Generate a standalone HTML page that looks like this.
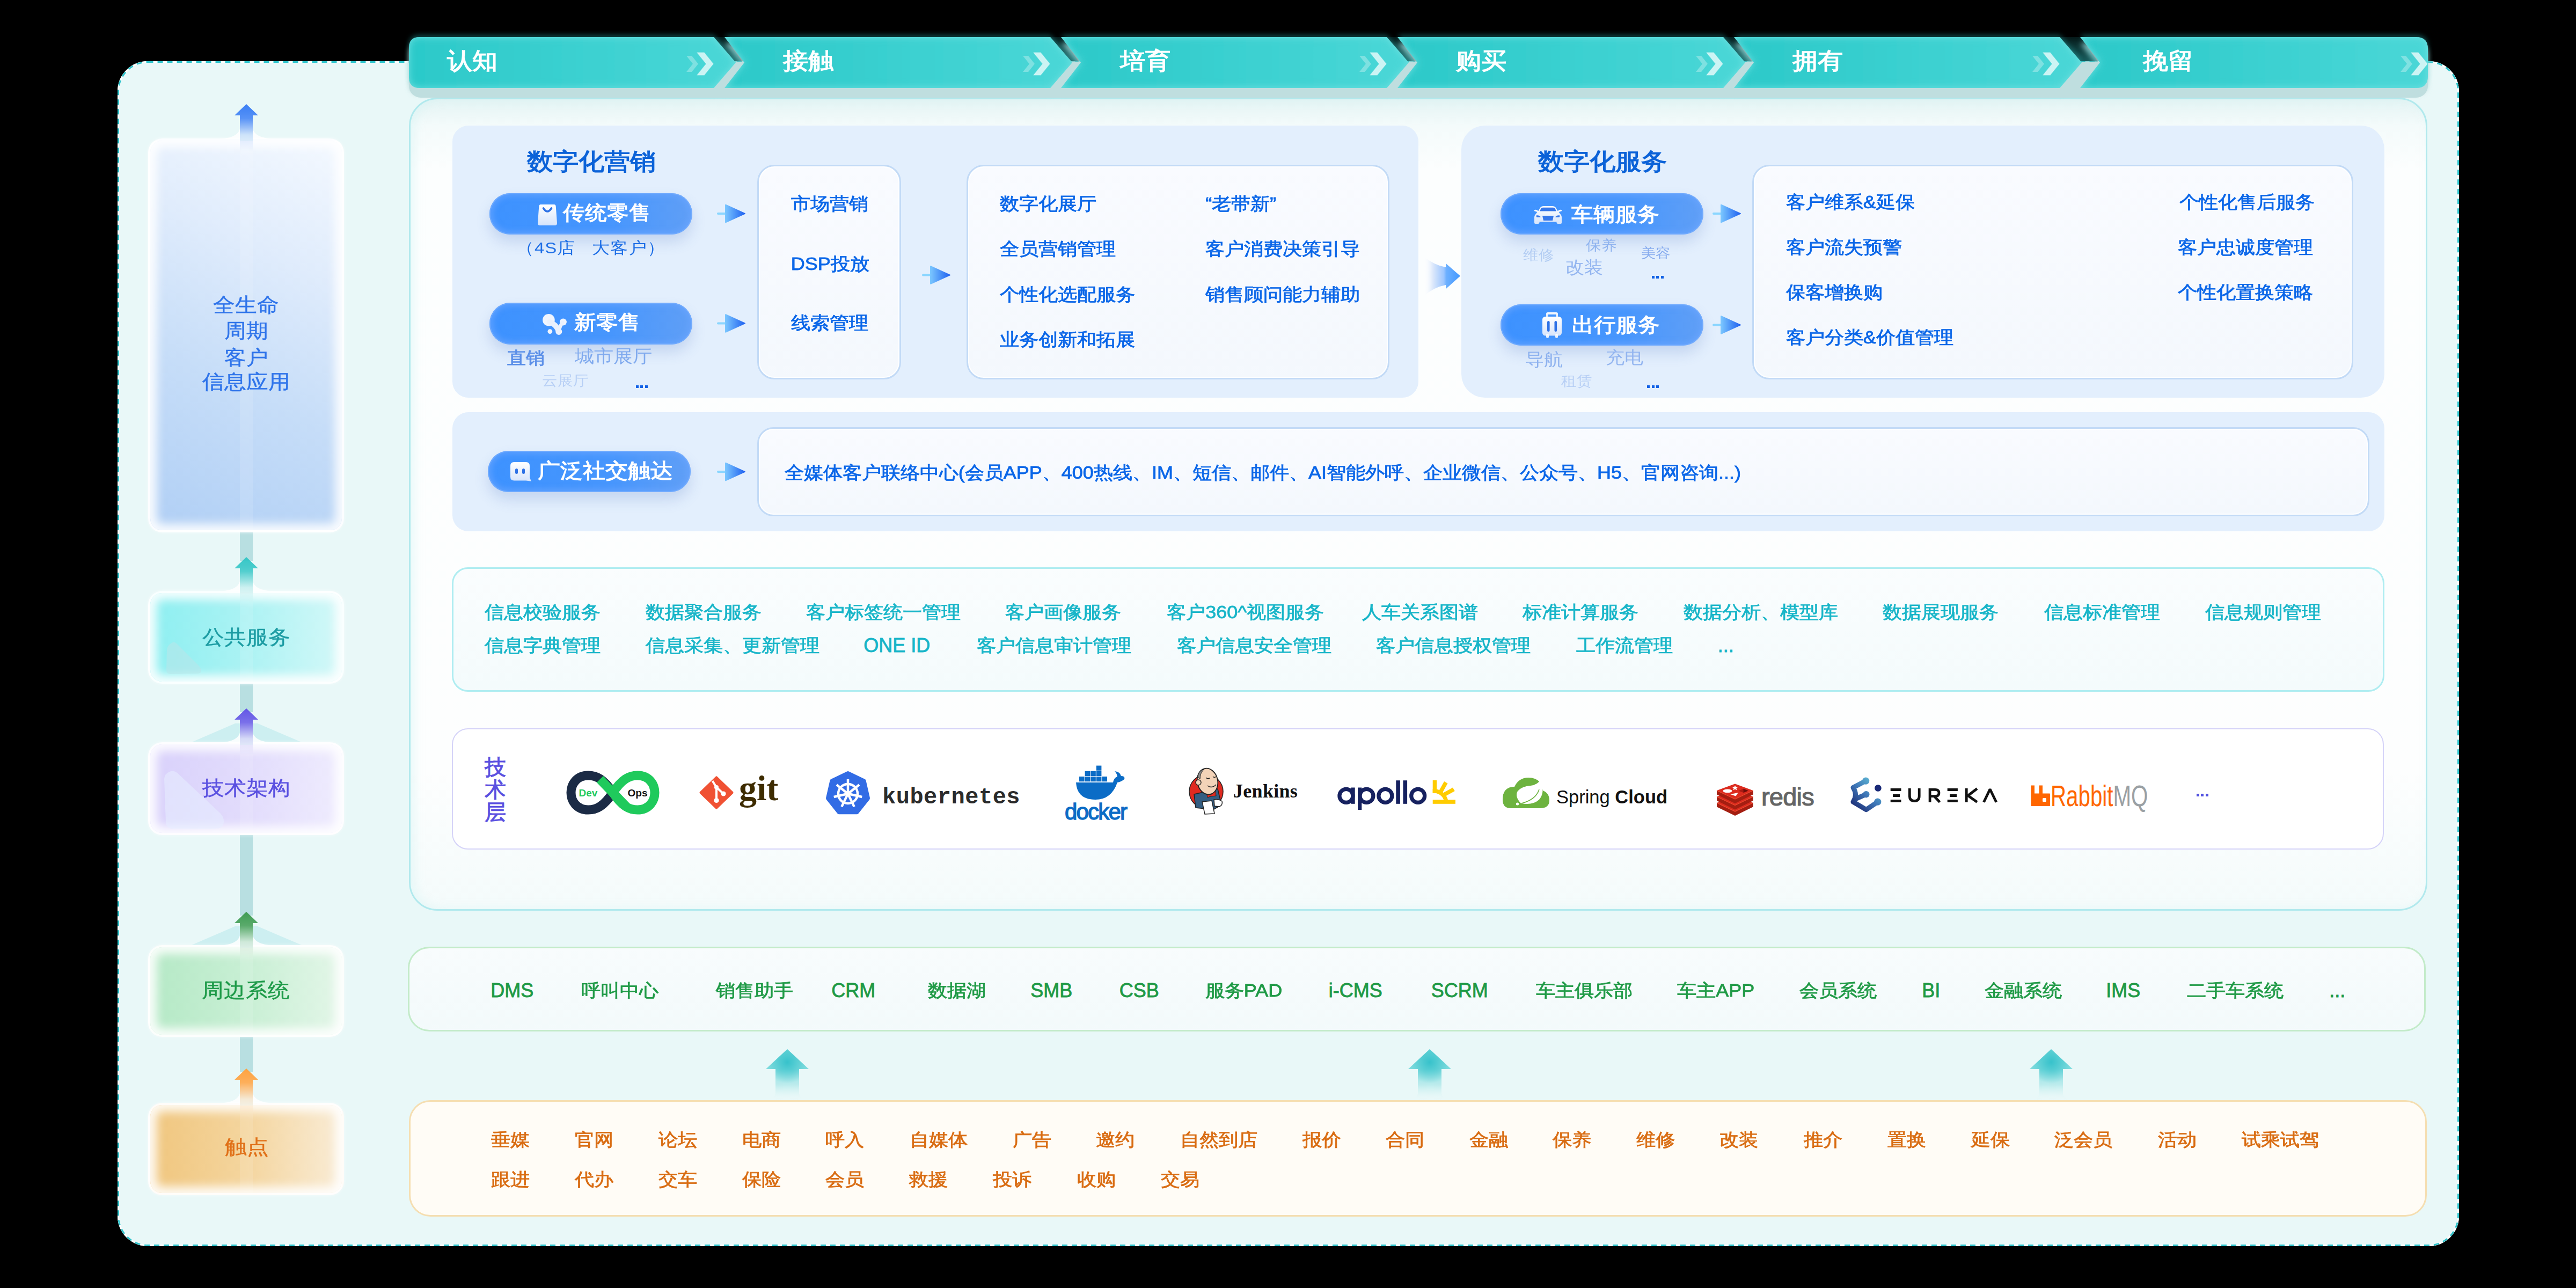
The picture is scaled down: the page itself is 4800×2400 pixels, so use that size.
<!DOCTYPE html><html><head><meta charset="utf-8"><style>
html,body{margin:0;padding:0;}
body{width:4800px;height:2400px;background:#000;position:relative;overflow:hidden;font-family:"Liberation Sans",sans-serif;}
.t{position:absolute;white-space:nowrap;line-height:1;}
.b{position:absolute;box-sizing:border-box;}
svg{position:absolute;overflow:visible;}
</style></head><body><div class="b" style="left:219px;top:114px;width:4363px;height:2208px;background:#e9f8f8;border-radius:56px;"></div><svg style="left:0;top:0" width="4800" height="2400"><rect x="220.5" y="115.5" width="4360" height="2205" rx="55" ry="55" fill="none" stroke="#ffffff" stroke-width="3"/><rect x="220.5" y="115.5" width="4360" height="2205" rx="55" ry="55" fill="none" stroke="#2cc3cb" stroke-width="3" stroke-dasharray="10 8"/></svg><div class="b" style="left:762px;top:182px;width:3761px;height:1515px;border-radius:53px;border:3px solid #b1e9ed;box-shadow:inset 8px 0 18px rgba(200,240,240,0.35);background:linear-gradient(180deg,#e4f4f4 0px,#f4fbfb 50px,#fcfefe 130px,#fdfefe 1250px,#f4fbfb 1515px);"></div><svg style="left:0;top:0" width="4800" height="260"><defs><linearGradient id="pg" x1="0" x2="1" y1="0" y2="0"><stop offset="0" stop-color="#2bc9c9"/><stop offset="1" stop-color="#4ad7d7"/></linearGradient><filter id="pgl" x="-5%" y="-50%" width="110%" height="200%"><feGaussianBlur stdDeviation="7"/></filter><filter id="shb" x="-5%" y="-50%" width="110%" height="200%"><feGaussianBlur stdDeviation="5"/></filter><clipPath id="cp0"><path d="M782,69 L1330,69 L1371,116.5 L1330,164 L782,164 Q762,164 762,144 L762,89 Q762,69 782,69 Z"/></clipPath><clipPath id="cp1"><path d="M1350,69 L1957,69 L1998,116.5 L1957,164 L1350,164 L1387,116.5 Z"/></clipPath><clipPath id="cp2"><path d="M1977,69 L2584,69 L2625,116.5 L2584,164 L1977,164 L2014,116.5 Z"/></clipPath><clipPath id="cp3"><path d="M2604,69 L3211,69 L3252,116.5 L3211,164 L2604,164 L2641,116.5 Z"/></clipPath><clipPath id="cp4"><path d="M3231,69 L3838,69 L3879,116.5 L3838,164 L3231,164 L3268,116.5 Z"/></clipPath><clipPath id="cp5"><path d="M3876,69 L4502,69 Q4524,69 4524,91 L4524,142 Q4524,164 4502,164 L3876,164 L3913,116.5 Z"/></clipPath></defs><g filter="url(#shb)" opacity="0.35"><path d="M782,69 L1330,69 L1371,116.5 L1330,164 L782,164 Q762,164 762,144 L762,89 Q762,69 782,69 Z" fill="#2ecaca" transform="translate(0,-4)"/><path d="M1350,69 L1957,69 L1998,116.5 L1957,164 L1350,164 L1387,116.5 Z" fill="#2ecaca" transform="translate(0,-4)"/><path d="M1977,69 L2584,69 L2625,116.5 L2584,164 L1977,164 L2014,116.5 Z" fill="#2ecaca" transform="translate(0,-4)"/><path d="M2604,69 L3211,69 L3252,116.5 L3211,164 L2604,164 L2641,116.5 Z" fill="#2ecaca" transform="translate(0,-4)"/><path d="M3231,69 L3838,69 L3879,116.5 L3838,164 L3231,164 L3268,116.5 Z" fill="#2ecaca" transform="translate(0,-4)"/><path d="M3876,69 L4502,69 Q4524,69 4524,91 L4524,142 Q4524,164 4502,164 L3876,164 L3913,116.5 Z" fill="#2ecaca" transform="translate(0,-4)"/></g><g filter="url(#shb)" opacity="0.85"><path d="M782,69 L1330,69 L1371,116.5 L1330,164 L782,164 Q762,164 762,144 L762,89 Q762,69 782,69 Z" fill="#b3d6d7" transform="translate(0,12)"/><path d="M1350,69 L1957,69 L1998,116.5 L1957,164 L1350,164 L1387,116.5 Z" fill="#b3d6d7" transform="translate(0,12)"/><path d="M1977,69 L2584,69 L2625,116.5 L2584,164 L1977,164 L2014,116.5 Z" fill="#b3d6d7" transform="translate(0,12)"/><path d="M2604,69 L3211,69 L3252,116.5 L3211,164 L2604,164 L2641,116.5 Z" fill="#b3d6d7" transform="translate(0,12)"/><path d="M3231,69 L3838,69 L3879,116.5 L3838,164 L3231,164 L3268,116.5 Z" fill="#b3d6d7" transform="translate(0,12)"/><path d="M3876,69 L4502,69 Q4524,69 4524,91 L4524,142 Q4524,164 4502,164 L3876,164 L3913,116.5 Z" fill="#b3d6d7" transform="translate(0,12)"/></g><rect x="762" y="115" width="3762" height="67" rx="22" fill="#bfdedf"/><defs><linearGradient id="gapg" x1="0" x2="0" y1="0" y2="1"><stop offset="0" stop-color="#2ec8c8" stop-opacity="0.12"/><stop offset="1" stop-color="#2aa8a8" stop-opacity="0.55"/></linearGradient></defs><path d="M1330,69 L1350,69 L1383,115 L1367,115 Z" fill="url(#gapg)"/><path d="M1957,69 L1977,69 L2010,115 L1994,115 Z" fill="url(#gapg)"/><path d="M2584,69 L2604,69 L2637,115 L2621,115 Z" fill="url(#gapg)"/><path d="M3211,69 L3231,69 L3264,115 L3248,115 Z" fill="url(#gapg)"/><path d="M3838,69 L3876,69 L3909,115 L3875,115 Z" fill="url(#gapg)"/><path d="M782,69 L1330,69 L1371,116.5 L1330,164 L782,164 Q762,164 762,144 L762,89 Q762,69 782,69 Z" fill="#6ee0e0"/><g clip-path="url(#cp0)"><path d="M782,69 L1330,69 L1371,116.5 L1330,164 L782,164 Q762,164 762,144 L762,89 Q762,69 782,69 Z" fill="url(#pg)" filter="url(#pgl)" transform="translate(0,0)"/></g><path d="M1299,98 L1312,98 L1329,119 L1312,140 L1299,140 L1316,119 Z" fill="#ffffff" fill-opacity="0.72" stroke="#fff" stroke-opacity="0.3" stroke-width="1.5" stroke-linejoin="round"/><path d="M1279,104 L1289,104 L1301,119 L1289,134 L1279,134 L1291,119 Z" fill="#ffffff" fill-opacity="0.3"/><path d="M1350,69 L1957,69 L1998,116.5 L1957,164 L1350,164 L1387,116.5 Z" fill="#6ee0e0"/><g clip-path="url(#cp1)"><path d="M1350,69 L1957,69 L1998,116.5 L1957,164 L1350,164 L1387,116.5 Z" fill="url(#pg)" filter="url(#pgl)" transform="translate(0,0)"/></g><path d="M1926,98 L1939,98 L1956,119 L1939,140 L1926,140 L1943,119 Z" fill="#ffffff" fill-opacity="0.72" stroke="#fff" stroke-opacity="0.3" stroke-width="1.5" stroke-linejoin="round"/><path d="M1906,104 L1916,104 L1928,119 L1916,134 L1906,134 L1918,119 Z" fill="#ffffff" fill-opacity="0.3"/><path d="M1977,69 L2584,69 L2625,116.5 L2584,164 L1977,164 L2014,116.5 Z" fill="#6ee0e0"/><g clip-path="url(#cp2)"><path d="M1977,69 L2584,69 L2625,116.5 L2584,164 L1977,164 L2014,116.5 Z" fill="url(#pg)" filter="url(#pgl)" transform="translate(0,0)"/></g><path d="M2553,98 L2566,98 L2583,119 L2566,140 L2553,140 L2570,119 Z" fill="#ffffff" fill-opacity="0.72" stroke="#fff" stroke-opacity="0.3" stroke-width="1.5" stroke-linejoin="round"/><path d="M2533,104 L2543,104 L2555,119 L2543,134 L2533,134 L2545,119 Z" fill="#ffffff" fill-opacity="0.3"/><path d="M2604,69 L3211,69 L3252,116.5 L3211,164 L2604,164 L2641,116.5 Z" fill="#6ee0e0"/><g clip-path="url(#cp3)"><path d="M2604,69 L3211,69 L3252,116.5 L3211,164 L2604,164 L2641,116.5 Z" fill="url(#pg)" filter="url(#pgl)" transform="translate(0,0)"/></g><path d="M3180,98 L3193,98 L3210,119 L3193,140 L3180,140 L3197,119 Z" fill="#ffffff" fill-opacity="0.72" stroke="#fff" stroke-opacity="0.3" stroke-width="1.5" stroke-linejoin="round"/><path d="M3160,104 L3170,104 L3182,119 L3170,134 L3160,134 L3172,119 Z" fill="#ffffff" fill-opacity="0.3"/><path d="M3231,69 L3838,69 L3879,116.5 L3838,164 L3231,164 L3268,116.5 Z" fill="#6ee0e0"/><g clip-path="url(#cp4)"><path d="M3231,69 L3838,69 L3879,116.5 L3838,164 L3231,164 L3268,116.5 Z" fill="url(#pg)" filter="url(#pgl)" transform="translate(0,0)"/></g><path d="M3807,98 L3820,98 L3837,119 L3820,140 L3807,140 L3824,119 Z" fill="#ffffff" fill-opacity="0.72" stroke="#fff" stroke-opacity="0.3" stroke-width="1.5" stroke-linejoin="round"/><path d="M3787,104 L3797,104 L3809,119 L3797,134 L3787,134 L3799,119 Z" fill="#ffffff" fill-opacity="0.3"/><path d="M3876,69 L4502,69 Q4524,69 4524,91 L4524,142 Q4524,164 4502,164 L3876,164 L3913,116.5 Z" fill="#6ee0e0"/><g clip-path="url(#cp5)"><path d="M3876,69 L4502,69 Q4524,69 4524,91 L4524,142 Q4524,164 4502,164 L3876,164 L3913,116.5 Z" fill="url(#pg)" filter="url(#pgl)" transform="translate(0,0)"/></g><path d="M4493,98 L4506,98 L4523,119 L4506,140 L4493,140 L4510,119 Z" fill="#ffffff" fill-opacity="0.72" stroke="#fff" stroke-opacity="0.3" stroke-width="1.5" stroke-linejoin="round"/><path d="M4473,104 L4483,104 L4495,119 L4483,134 L4473,134 L4485,119 Z" fill="#ffffff" fill-opacity="0.3"/></svg><div class="t" style="left:832.6px;top:91.1px;font-size:47px;color:#ffffff;font-weight:700;transform:scaleY(0.91);transform-origin:0 1.4px;">认知</div><div class="t" style="left:1459.4px;top:91.1px;font-size:47px;color:#ffffff;font-weight:700;transform:scaleY(0.91);transform-origin:0 1.4px;">接触</div><div class="t" style="left:2086.7px;top:91.1px;font-size:47px;color:#ffffff;font-weight:700;transform:scaleY(0.91);transform-origin:0 1.4px;">培育</div><div class="t" style="left:2713.1px;top:91.1px;font-size:47px;color:#ffffff;font-weight:700;transform:scaleY(0.91);transform-origin:0 1.4px;">购买</div><div class="t" style="left:3340.1px;top:91.1px;font-size:47px;color:#ffffff;font-weight:700;transform:scaleY(0.91);transform-origin:0 1.4px;">拥有</div><div class="t" style="left:3993.1px;top:91.1px;font-size:47px;color:#ffffff;font-weight:700;transform:scaleY(0.91);transform-origin:0 1.4px;">挽留</div><div class="b" style="left:843px;top:234px;width:1800px;height:507px;border-radius:30px;background:#e3effd;"></div><div class="b" style="left:2723px;top:234px;width:1720px;height:507px;border-radius:44px;background:#e3effd;"></div><div class="b" style="left:843px;top:768px;width:3600px;height:222px;border-radius:30px;background:#e3effd;"></div><div class="b" style="left:1411px;top:307px;width:268px;height:400px;border-radius:32px;border:3px solid #c2daf6;background:linear-gradient(180deg,#f9fbff,#f4f8fd);box-shadow:inset 0 0 0 2px rgba(255,255,255,0.95);"></div><div class="b" style="left:1801px;top:307px;width:788px;height:400px;border-radius:32px;border:3px solid #c2daf6;background:linear-gradient(180deg,#f9fbff,#f4f8fd);box-shadow:inset 0 0 0 2px rgba(255,255,255,0.95);"></div><div class="b" style="left:3265px;top:307px;width:1120px;height:400px;border-radius:32px;border:3px solid #c2daf6;background:linear-gradient(180deg,#f9fbff,#f4f8fd);box-shadow:inset 0 0 0 2px rgba(255,255,255,0.95);"></div><div class="b" style="left:1411px;top:796px;width:3004px;height:166px;border-radius:30px;border:3px solid #c2daf6;background:linear-gradient(180deg,#f9fbff,#f4f8fd);box-shadow:inset 0 0 0 2px rgba(255,255,255,0.95);"></div><div class="b" style="left:912px;top:360px;width:378px;height:77px;border-radius:40px;background:linear-gradient(90deg,#3d92ff 0%,#4796fd 60%,#609ff6 100%);box-shadow:0 14px 26px rgba(70,110,190,0.20), inset 0 0 0 2px rgba(125,178,255,0.55), inset 0 0 10px 7px rgba(105,165,255,0.6);"></div><div class="b" style="left:912px;top:564px;width:378px;height:78px;border-radius:40px;background:linear-gradient(90deg,#3d92ff 0%,#4796fd 60%,#609ff6 100%);box-shadow:0 14px 26px rgba(70,110,190,0.20), inset 0 0 0 2px rgba(125,178,255,0.55), inset 0 0 10px 7px rgba(105,165,255,0.6);"></div><div class="b" style="left:2796px;top:360px;width:378px;height:77px;border-radius:40px;background:linear-gradient(90deg,#3d92ff 0%,#4796fd 60%,#609ff6 100%);box-shadow:0 14px 26px rgba(70,110,190,0.20), inset 0 0 0 2px rgba(125,178,255,0.55), inset 0 0 10px 7px rgba(105,165,255,0.6);"></div><div class="b" style="left:2796px;top:567px;width:378px;height:77px;border-radius:40px;background:linear-gradient(90deg,#3d92ff 0%,#4796fd 60%,#609ff6 100%);box-shadow:0 14px 26px rgba(70,110,190,0.20), inset 0 0 0 2px rgba(125,178,255,0.55), inset 0 0 10px 7px rgba(105,165,255,0.6);"></div><div class="b" style="left:909px;top:840px;width:378px;height:77px;border-radius:40px;background:linear-gradient(90deg,#3d92ff 0%,#4796fd 60%,#609ff6 100%);box-shadow:0 14px 26px rgba(70,110,190,0.20), inset 0 0 0 2px rgba(125,178,255,0.55), inset 0 0 10px 7px rgba(105,165,255,0.6);"></div><svg style="left:0;top:0" width="4800" height="1000"><defs><linearGradient id="sag" x1="0" x2="1"><stop offset="0" stop-color="#7cc8ff"/><stop offset="1" stop-color="#1d5ff0"/></linearGradient><linearGradient id="bag" x1="0" x2="1"><stop offset="0" stop-color="#ffffff" stop-opacity="0"/><stop offset="0.25" stop-color="#dce8fb"/><stop offset="0.55" stop-color="#9cc6ff"/><stop offset="0.62" stop-color="#6cb0ff"/><stop offset="1" stop-color="#4499ff"/></linearGradient></defs><rect x="1336" y="396" width="18" height="4" rx="2" fill="#8ad6ff"/><path d="M1351,382 Q1351,380 1353,381 L1388,397 Q1390,398 1388,399 L1353,415 Q1351,416 1351,414 Z" fill="url(#sag)"/><rect x="1336" y="600.5" width="18" height="4" rx="2" fill="#8ad6ff"/><path d="M1351,586.5 Q1351,584.5 1353,585.5 L1388,601.5 Q1390,602.5 1388,603.5 L1353,619.5 Q1351,620.5 1351,618.5 Z" fill="url(#sag)"/><rect x="3191" y="396" width="18" height="4" rx="2" fill="#8ad6ff"/><path d="M3206,382 Q3206,380 3208,381 L3243,397 Q3245,398 3243,399 L3208,415 Q3206,416 3206,414 Z" fill="url(#sag)"/><rect x="3191" y="603.5" width="18" height="4" rx="2" fill="#8ad6ff"/><path d="M3206,589.5 Q3206,587.5 3208,588.5 L3243,604.5 Q3245,605.5 3243,606.5 L3208,622.5 Q3206,623.5 3206,621.5 Z" fill="url(#sag)"/><rect x="1336" y="877" width="18" height="4" rx="2" fill="#8ad6ff"/><path d="M1351,863 Q1351,861 1353,862 L1388,878 Q1390,879 1388,880 L1353,896 Q1351,897 1351,895 Z" fill="url(#sag)"/><rect x="1718" y="510.5" width="18" height="4" rx="2" fill="#8ad6ff"/><path d="M1733,496.5 Q1733,494.5 1735,495.5 L1770,511.5 Q1772,512.5 1770,513.5 L1735,529.5 Q1733,530.5 1733,528.5 Z" fill="url(#sag)"/><path d="M2653,478 Q2672,494 2694,498 L2694,490.7 L2721,514.3 L2694,538.4 L2694,531 Q2672,535 2653,551.6 Z" fill="url(#bag)"/></svg><div class="t" style="left:981.5px;top:278.6px;font-size:48px;color:#0b62d8;font-weight:400;-webkit-text-stroke:1.44px #0b62d8;transform:scaleY(0.91);transform-origin:0 1.4px;">数字化营销</div><div class="t" style="left:2866.0px;top:278.6px;font-size:48px;color:#0b62d8;font-weight:400;-webkit-text-stroke:1.44px #0b62d8;transform:scaleY(0.91);transform-origin:0 1.4px;">数字化服务</div><div class="t" style="left:1049.2px;top:378.3px;font-size:41px;color:#fff;font-weight:700;transform:scaleY(0.91);transform-origin:0 1.2px;">传统零售</div><div class="t" style="left:1070.2px;top:581.8px;font-size:41px;color:#fff;font-weight:700;transform:scaleY(0.91);transform-origin:0 1.2px;">新零售</div><div class="t" style="left:2928.2px;top:380.8px;font-size:41px;color:#fff;font-weight:700;transform:scaleY(0.91);transform-origin:0 1.2px;">车辆服务</div><div class="t" style="left:2929.2px;top:586.8px;font-size:41px;color:#fff;font-weight:700;transform:scaleY(0.91);transform-origin:0 1.2px;">出行服务</div><div class="t" style="left:1001.7px;top:858.2px;font-size:42px;color:#fff;font-weight:700;transform:scaleY(0.91);transform-origin:0 1.3px;">广泛社交触达</div><div class="t" style="left:961.8px;top:445.5px;font-size:33px;color:#1f6fe6;font-weight:400;letter-spacing:1.1px;transform:scaleY(0.91);transform-origin:0 1.0px;">（4S店&nbsp;&nbsp;&nbsp;大客户）</div><div class="t" style="left:945.3px;top:651.0px;font-size:35px;color:#5b8fe8;font-weight:400;-webkit-text-stroke:0.84px #5b8fe8;transform:scaleY(0.91);transform-origin:0 1.1px;">直销</div><div class="t" style="left:1071.3px;top:648.4px;font-size:36px;color:#80aaee;font-weight:400;transform:scaleY(0.91);transform-origin:0 1.1px;">城市展厅</div><div class="t" style="left:1010.4px;top:696.1px;font-size:29px;color:#b7cff5;font-weight:400;transform:scaleY(0.91);transform-origin:0 0.9px;">云展厅</div><div class="t" style="left:2838.4px;top:462.1px;font-size:29px;color:#b3cdf3;font-weight:400;transform:scaleY(0.91);transform-origin:0 0.9px;">维修</div><div class="t" style="left:2954.9px;top:443.6px;font-size:29px;color:#8fb3ef;font-weight:400;transform:scaleY(0.91);transform-origin:0 0.9px;">保养</div><div class="t" style="left:2917.3px;top:481.9px;font-size:35px;color:#93b5f0;font-weight:400;transform:scaleY(0.91);transform-origin:0 1.1px;">改装</div><div class="t" style="left:3057.5px;top:460.2px;font-size:27px;color:#86abee;font-weight:400;transform:scaleY(0.91);transform-origin:0 0.8px;">美容</div><div class="t" style="left:2841.8px;top:653.5px;font-size:35px;color:#8eb2ef;font-weight:400;transform:scaleY(0.91);transform-origin:0 1.1px;">导航</div><div class="t" style="left:2991.8px;top:650.0px;font-size:35px;color:#93b5f0;font-weight:400;transform:scaleY(0.91);transform-origin:0 1.1px;">充电</div><div class="t" style="left:2909.4px;top:697.1px;font-size:29px;color:#b7cff5;font-weight:400;transform:scaleY(0.91);transform-origin:0 0.9px;">租赁</div><div class="b" style="left:1184.5px;top:717.5px;width:5.0px;height:5.0px;background:#1262e6;"></div><div class="b" style="left:1193.0px;top:717.5px;width:5.0px;height:5.0px;background:#1262e6;"></div><div class="b" style="left:1201.5px;top:717.5px;width:5.0px;height:5.0px;background:#1262e6;"></div><div class="b" style="left:3077.5px;top:514px;width:5.0px;height:5px;background:#1262e6;"></div><div class="b" style="left:3086.0px;top:514px;width:5.0px;height:5px;background:#1262e6;"></div><div class="b" style="left:3094.5px;top:514px;width:5.0px;height:5px;background:#1262e6;"></div><div class="b" style="left:3069.0px;top:718px;width:5.0px;height:5px;background:#1262e6;"></div><div class="b" style="left:3077.5px;top:718px;width:5.0px;height:5px;background:#1262e6;"></div><div class="b" style="left:3086.0px;top:718px;width:5.0px;height:5px;background:#1262e6;"></div><div class="t" style="left:1473.8px;top:363.9px;font-size:36px;color:#0a66e8;font-weight:400;-webkit-text-stroke:0.86px #0a66e8;transform:scaleY(0.91);transform-origin:0 1.1px;">市场营销</div><div class="t" style="left:1473.8px;top:475.9px;font-size:36px;color:#0a66e8;font-weight:400;-webkit-text-stroke:0.86px #0a66e8;transform:scaleY(0.91);transform-origin:0 1.1px;">DSP投放</div><div class="t" style="left:1473.8px;top:585.9px;font-size:36px;color:#0a66e8;font-weight:400;-webkit-text-stroke:0.86px #0a66e8;transform:scaleY(0.91);transform-origin:0 1.1px;">线索管理</div><div class="t" style="left:1863.3px;top:363.9px;font-size:36px;color:#0a66e8;font-weight:400;-webkit-text-stroke:0.86px #0a66e8;transform:scaleY(0.91);transform-origin:0 1.1px;">数字化展厅</div><div class="t" style="left:1863.3px;top:448.4px;font-size:36px;color:#0a66e8;font-weight:400;-webkit-text-stroke:0.86px #0a66e8;transform:scaleY(0.91);transform-origin:0 1.1px;">全员营销管理</div><div class="t" style="left:1863.3px;top:532.9px;font-size:36px;color:#0a66e8;font-weight:400;-webkit-text-stroke:0.86px #0a66e8;transform:scaleY(0.91);transform-origin:0 1.1px;">个性化选配服务</div><div class="t" style="left:1863.3px;top:617.4px;font-size:36px;color:#0a66e8;font-weight:400;-webkit-text-stroke:0.86px #0a66e8;transform:scaleY(0.91);transform-origin:0 1.1px;">业务创新和拓展</div><div class="t" style="left:2246.3px;top:363.9px;font-size:36px;color:#0a66e8;font-weight:400;-webkit-text-stroke:0.86px #0a66e8;transform:scaleY(0.91);transform-origin:0 1.1px;">“老带新”</div><div class="t" style="left:2246.3px;top:448.4px;font-size:36px;color:#0a66e8;font-weight:400;-webkit-text-stroke:0.86px #0a66e8;transform:scaleY(0.91);transform-origin:0 1.1px;">客户消费决策引导</div><div class="t" style="left:2246.3px;top:532.9px;font-size:36px;color:#0a66e8;font-weight:400;-webkit-text-stroke:0.86px #0a66e8;transform:scaleY(0.91);transform-origin:0 1.1px;">销售顾问能力辅助</div><div class="t" style="left:3327.7px;top:360.9px;font-size:36px;color:#0a66e8;font-weight:400;-webkit-text-stroke:0.86px #0a66e8;transform:scaleY(0.91);transform-origin:0 1.1px;">客户维系&amp;延保</div><div class="t" style="left:3327.7px;top:445.3px;font-size:36px;color:#0a66e8;font-weight:400;-webkit-text-stroke:0.86px #0a66e8;transform:scaleY(0.91);transform-origin:0 1.1px;">客户流失预警</div><div class="t" style="left:3327.7px;top:528.5px;font-size:36px;color:#0a66e8;font-weight:400;-webkit-text-stroke:0.86px #0a66e8;transform:scaleY(0.91);transform-origin:0 1.1px;">保客增换购</div><div class="t" style="left:3327.7px;top:612.9px;font-size:36px;color:#0a66e8;font-weight:400;-webkit-text-stroke:0.86px #0a66e8;transform:scaleY(0.91);transform-origin:0 1.1px;">客户分类&amp;价值管理</div><div class="t" style="left:4060.9px;top:360.9px;font-size:36px;color:#0a66e8;font-weight:400;-webkit-text-stroke:0.86px #0a66e8;transform:scaleY(0.91);transform-origin:0 1.1px;">个性化售后服务</div><div class="t" style="left:4058.3px;top:445.3px;font-size:36px;color:#0a66e8;font-weight:400;-webkit-text-stroke:0.86px #0a66e8;transform:scaleY(0.91);transform-origin:0 1.1px;">客户忠诚度管理</div><div class="t" style="left:4058.3px;top:528.5px;font-size:36px;color:#0a66e8;font-weight:400;-webkit-text-stroke:0.86px #0a66e8;transform:scaleY(0.91);transform-origin:0 1.1px;">个性化置换策略</div><div class="t" style="left:1461.8px;top:864.9px;font-size:36px;color:#0a66e8;font-weight:400;-webkit-text-stroke:0.86px #0a66e8;transform:scaleY(0.91);transform-origin:0 1.1px;">全媒体客户联络中心(会员APP、400热线、IM、短信、邮件、AI智能外呼、企业微信、公众号、H5、官网咨询...)</div><div class="b" style="left:842px;top:1057px;width:3601px;height:232px;border-radius:30px;border:3px solid #afedf1;background:linear-gradient(180deg,#fafdfe,#f4fbfc);"></div><div class="t" style="left:903.3px;top:1124.9px;font-size:36px;color:#17b5c8;font-weight:400;-webkit-text-stroke:0.86px #17b5c8;transform:scaleY(0.91);transform-origin:0 1.1px;">信息校验服务</div><div class="t" style="left:1202.8px;top:1124.9px;font-size:36px;color:#17b5c8;font-weight:400;-webkit-text-stroke:0.86px #17b5c8;transform:scaleY(0.91);transform-origin:0 1.1px;">数据聚合服务</div><div class="t" style="left:1501.8px;top:1124.9px;font-size:36px;color:#17b5c8;font-weight:400;-webkit-text-stroke:0.86px #17b5c8;transform:scaleY(0.91);transform-origin:0 1.1px;">客户标签统一管理</div><div class="t" style="left:1873.3px;top:1124.9px;font-size:36px;color:#17b5c8;font-weight:400;-webkit-text-stroke:0.86px #17b5c8;transform:scaleY(0.91);transform-origin:0 1.1px;">客户画像服务</div><div class="t" style="left:2174.3px;top:1124.9px;font-size:36px;color:#17b5c8;font-weight:400;-webkit-text-stroke:0.86px #17b5c8;transform:scaleY(0.91);transform-origin:0 1.1px;">客户360^视图服务</div><div class="t" style="left:2537.8px;top:1124.9px;font-size:36px;color:#17b5c8;font-weight:400;-webkit-text-stroke:0.86px #17b5c8;transform:scaleY(0.91);transform-origin:0 1.1px;">人车关系图谱</div><div class="t" style="left:2836.8px;top:1124.9px;font-size:36px;color:#17b5c8;font-weight:400;-webkit-text-stroke:0.86px #17b5c8;transform:scaleY(0.91);transform-origin:0 1.1px;">标准计算服务</div><div class="t" style="left:3136.8px;top:1124.9px;font-size:36px;color:#17b5c8;font-weight:400;-webkit-text-stroke:0.86px #17b5c8;transform:scaleY(0.91);transform-origin:0 1.1px;">数据分析、模型库</div><div class="t" style="left:3508.3px;top:1124.9px;font-size:36px;color:#17b5c8;font-weight:400;-webkit-text-stroke:0.86px #17b5c8;transform:scaleY(0.91);transform-origin:0 1.1px;">数据展现服务</div><div class="t" style="left:3809.3px;top:1124.9px;font-size:36px;color:#17b5c8;font-weight:400;-webkit-text-stroke:0.86px #17b5c8;transform:scaleY(0.91);transform-origin:0 1.1px;">信息标准管理</div><div class="t" style="left:4109.3px;top:1124.9px;font-size:36px;color:#17b5c8;font-weight:400;-webkit-text-stroke:0.86px #17b5c8;transform:scaleY(0.91);transform-origin:0 1.1px;">信息规则管理</div><div class="t" style="left:903.3px;top:1186.9px;font-size:36px;color:#17b5c8;font-weight:400;-webkit-text-stroke:0.86px #17b5c8;transform:scaleY(0.91);transform-origin:0 1.1px;">信息字典管理</div><div class="t" style="left:1202.8px;top:1186.9px;font-size:36px;color:#17b5c8;font-weight:400;-webkit-text-stroke:0.86px #17b5c8;transform:scaleY(0.91);transform-origin:0 1.1px;">信息采集、更新管理</div><div class="t" style="left:1609.3px;top:1184.9px;font-size:36px;color:#17b5c8;font-weight:400;-webkit-text-stroke:0.86px #17b5c8;">ONE ID</div><div class="t" style="left:1820.3px;top:1186.9px;font-size:36px;color:#17b5c8;font-weight:400;-webkit-text-stroke:0.86px #17b5c8;transform:scaleY(0.91);transform-origin:0 1.1px;">客户信息审计管理</div><div class="t" style="left:2192.8px;top:1186.9px;font-size:36px;color:#17b5c8;font-weight:400;-webkit-text-stroke:0.86px #17b5c8;transform:scaleY(0.91);transform-origin:0 1.1px;">客户信息安全管理</div><div class="t" style="left:2564.3px;top:1186.9px;font-size:36px;color:#17b5c8;font-weight:400;-webkit-text-stroke:0.86px #17b5c8;transform:scaleY(0.91);transform-origin:0 1.1px;">客户信息授权管理</div><div class="t" style="left:2936.8px;top:1186.9px;font-size:36px;color:#17b5c8;font-weight:400;-webkit-text-stroke:0.86px #17b5c8;transform:scaleY(0.91);transform-origin:0 1.1px;">工作流管理</div><div class="t" style="left:3200.8px;top:1184.9px;font-size:36px;color:#17b5c8;font-weight:400;-webkit-text-stroke:0.86px #17b5c8;">...</div><div class="b" style="left:842px;top:1357px;width:3600px;height:226px;border-radius:30px;border:2.5px solid #d5d3f8;background:#fff;"></div><div class="t" style="left:903.2px;top:1407.8px;font-size:40px;color:#5a4fe0;font-weight:400;-webkit-text-stroke:0.96px #5a4fe0;line-height:42px;">技<br>术<br>层</div><div class="b" style="left:4092.5px;top:1479px;width:5.0px;height:5px;background:#5050e0;"></div><div class="b" style="left:4101.0px;top:1479px;width:5.0px;height:5px;background:#5050e0;"></div><div class="b" style="left:4109.5px;top:1479px;width:5.0px;height:5px;background:#5050e0;"></div><div class="b" style="left:760px;top:1764px;width:3760px;height:158px;border-radius:40px;border:3px solid #c3ebc9;background:linear-gradient(180deg,#f8fcfd,#f3fafb);"></div><div class="t" style="left:914.3px;top:1827.9px;font-size:36px;color:#1f9a46;font-weight:400;-webkit-text-stroke:0.86px #1f9a46;">DMS</div><div class="t" style="left:1082.8px;top:1829.9px;font-size:36px;color:#1f9a46;font-weight:400;-webkit-text-stroke:0.86px #1f9a46;transform:scaleY(0.91);transform-origin:0 1.1px;">呼叫中心</div><div class="t" style="left:1334.3px;top:1829.9px;font-size:36px;color:#1f9a46;font-weight:400;-webkit-text-stroke:0.86px #1f9a46;transform:scaleY(0.91);transform-origin:0 1.1px;">销售助手</div><div class="t" style="left:1549.3px;top:1827.9px;font-size:36px;color:#1f9a46;font-weight:400;-webkit-text-stroke:0.86px #1f9a46;">CRM</div><div class="t" style="left:1729.3px;top:1829.9px;font-size:36px;color:#1f9a46;font-weight:400;-webkit-text-stroke:0.86px #1f9a46;transform:scaleY(0.91);transform-origin:0 1.1px;">数据湖</div><div class="t" style="left:1920.3px;top:1827.9px;font-size:36px;color:#1f9a46;font-weight:400;-webkit-text-stroke:0.86px #1f9a46;">SMB</div><div class="t" style="left:2085.8px;top:1827.9px;font-size:36px;color:#1f9a46;font-weight:400;-webkit-text-stroke:0.86px #1f9a46;">CSB</div><div class="t" style="left:2245.8px;top:1829.9px;font-size:36px;color:#1f9a46;font-weight:400;-webkit-text-stroke:0.86px #1f9a46;transform:scaleY(0.91);transform-origin:0 1.1px;">服务PAD</div><div class="t" style="left:2475.8px;top:1827.9px;font-size:36px;color:#1f9a46;font-weight:400;-webkit-text-stroke:0.86px #1f9a46;">i-CMS</div><div class="t" style="left:2666.8px;top:1827.9px;font-size:36px;color:#1f9a46;font-weight:400;-webkit-text-stroke:0.86px #1f9a46;">SCRM</div><div class="t" style="left:2861.8px;top:1829.9px;font-size:36px;color:#1f9a46;font-weight:400;-webkit-text-stroke:0.86px #1f9a46;transform:scaleY(0.91);transform-origin:0 1.1px;">车主俱乐部</div><div class="t" style="left:3125.3px;top:1829.9px;font-size:36px;color:#1f9a46;font-weight:400;-webkit-text-stroke:0.86px #1f9a46;transform:scaleY(0.91);transform-origin:0 1.1px;">车主APP</div><div class="t" style="left:3353.3px;top:1829.9px;font-size:36px;color:#1f9a46;font-weight:400;-webkit-text-stroke:0.86px #1f9a46;transform:scaleY(0.91);transform-origin:0 1.1px;">会员系统</div><div class="t" style="left:3581.3px;top:1827.9px;font-size:36px;color:#1f9a46;font-weight:400;-webkit-text-stroke:0.86px #1f9a46;">BI</div><div class="t" style="left:3698.3px;top:1829.9px;font-size:36px;color:#1f9a46;font-weight:400;-webkit-text-stroke:0.86px #1f9a46;transform:scaleY(0.91);transform-origin:0 1.1px;">金融系统</div><div class="t" style="left:3924.3px;top:1827.9px;font-size:36px;color:#1f9a46;font-weight:400;-webkit-text-stroke:0.86px #1f9a46;">IMS</div><div class="t" style="left:4075.3px;top:1829.9px;font-size:36px;color:#1f9a46;font-weight:400;-webkit-text-stroke:0.86px #1f9a46;transform:scaleY(0.91);transform-origin:0 1.1px;">二手车系统</div><div class="t" style="left:4340.3px;top:1827.9px;font-size:36px;color:#1f9a46;font-weight:400;-webkit-text-stroke:0.86px #1f9a46;">...</div><div class="b" style="left:762px;top:2050px;width:3760px;height:217px;border-radius:40px;border:3px solid #f5deb1;background:#fffcf6;"></div><div class="t" style="left:915.3px;top:2108.4px;font-size:36px;color:#d96c12;font-weight:400;-webkit-text-stroke:0.86px #d96c12;transform:scaleY(0.91);transform-origin:0 1.1px;">垂媒</div><div class="t" style="left:1070.8px;top:2108.4px;font-size:36px;color:#d96c12;font-weight:400;-webkit-text-stroke:0.86px #d96c12;transform:scaleY(0.91);transform-origin:0 1.1px;">官网</div><div class="t" style="left:1226.8px;top:2108.4px;font-size:36px;color:#d96c12;font-weight:400;-webkit-text-stroke:0.86px #d96c12;transform:scaleY(0.91);transform-origin:0 1.1px;">论坛</div><div class="t" style="left:1383.3px;top:2108.4px;font-size:36px;color:#d96c12;font-weight:400;-webkit-text-stroke:0.86px #d96c12;transform:scaleY(0.91);transform-origin:0 1.1px;">电商</div><div class="t" style="left:1538.3px;top:2108.4px;font-size:36px;color:#d96c12;font-weight:400;-webkit-text-stroke:0.86px #d96c12;transform:scaleY(0.91);transform-origin:0 1.1px;">呼入</div><div class="t" style="left:1695.3px;top:2108.4px;font-size:36px;color:#d96c12;font-weight:400;-webkit-text-stroke:0.86px #d96c12;transform:scaleY(0.91);transform-origin:0 1.1px;">自媒体</div><div class="t" style="left:1886.8px;top:2108.4px;font-size:36px;color:#d96c12;font-weight:400;-webkit-text-stroke:0.86px #d96c12;transform:scaleY(0.91);transform-origin:0 1.1px;">广告</div><div class="t" style="left:2041.8px;top:2108.4px;font-size:36px;color:#d96c12;font-weight:400;-webkit-text-stroke:0.86px #d96c12;transform:scaleY(0.91);transform-origin:0 1.1px;">邀约</div><div class="t" style="left:2199.3px;top:2108.4px;font-size:36px;color:#d96c12;font-weight:400;-webkit-text-stroke:0.86px #d96c12;transform:scaleY(0.91);transform-origin:0 1.1px;">自然到店</div><div class="t" style="left:2426.8px;top:2108.4px;font-size:36px;color:#d96c12;font-weight:400;-webkit-text-stroke:0.86px #d96c12;transform:scaleY(0.91);transform-origin:0 1.1px;">报价</div><div class="t" style="left:2581.8px;top:2108.4px;font-size:36px;color:#d96c12;font-weight:400;-webkit-text-stroke:0.86px #d96c12;transform:scaleY(0.91);transform-origin:0 1.1px;">合同</div><div class="t" style="left:2738.3px;top:2108.4px;font-size:36px;color:#d96c12;font-weight:400;-webkit-text-stroke:0.86px #d96c12;transform:scaleY(0.91);transform-origin:0 1.1px;">金融</div><div class="t" style="left:2893.3px;top:2108.4px;font-size:36px;color:#d96c12;font-weight:400;-webkit-text-stroke:0.86px #d96c12;transform:scaleY(0.91);transform-origin:0 1.1px;">保养</div><div class="t" style="left:3048.8px;top:2108.4px;font-size:36px;color:#d96c12;font-weight:400;-webkit-text-stroke:0.86px #d96c12;transform:scaleY(0.91);transform-origin:0 1.1px;">维修</div><div class="t" style="left:3204.3px;top:2108.4px;font-size:36px;color:#d96c12;font-weight:400;-webkit-text-stroke:0.86px #d96c12;transform:scaleY(0.91);transform-origin:0 1.1px;">改装</div><div class="t" style="left:3361.3px;top:2108.4px;font-size:36px;color:#d96c12;font-weight:400;-webkit-text-stroke:0.86px #d96c12;transform:scaleY(0.91);transform-origin:0 1.1px;">推介</div><div class="t" style="left:3517.3px;top:2108.4px;font-size:36px;color:#d96c12;font-weight:400;-webkit-text-stroke:0.86px #d96c12;transform:scaleY(0.91);transform-origin:0 1.1px;">置换</div><div class="t" style="left:3673.3px;top:2108.4px;font-size:36px;color:#d96c12;font-weight:400;-webkit-text-stroke:0.86px #d96c12;transform:scaleY(0.91);transform-origin:0 1.1px;">延保</div><div class="t" style="left:3828.3px;top:2108.4px;font-size:36px;color:#d96c12;font-weight:400;-webkit-text-stroke:0.86px #d96c12;transform:scaleY(0.91);transform-origin:0 1.1px;">泛会员</div><div class="t" style="left:4020.8px;top:2108.4px;font-size:36px;color:#d96c12;font-weight:400;-webkit-text-stroke:0.86px #d96c12;transform:scaleY(0.91);transform-origin:0 1.1px;">活动</div><div class="t" style="left:4176.8px;top:2108.4px;font-size:36px;color:#d96c12;font-weight:400;-webkit-text-stroke:0.86px #d96c12;transform:scaleY(0.91);transform-origin:0 1.1px;">试乘试驾</div><div class="t" style="left:915.3px;top:2182.4px;font-size:36px;color:#d96c12;font-weight:400;-webkit-text-stroke:0.86px #d96c12;transform:scaleY(0.91);transform-origin:0 1.1px;">跟进</div><div class="t" style="left:1070.8px;top:2182.4px;font-size:36px;color:#d96c12;font-weight:400;-webkit-text-stroke:0.86px #d96c12;transform:scaleY(0.91);transform-origin:0 1.1px;">代办</div><div class="t" style="left:1226.8px;top:2182.4px;font-size:36px;color:#d96c12;font-weight:400;-webkit-text-stroke:0.86px #d96c12;transform:scaleY(0.91);transform-origin:0 1.1px;">交车</div><div class="t" style="left:1383.3px;top:2182.4px;font-size:36px;color:#d96c12;font-weight:400;-webkit-text-stroke:0.86px #d96c12;transform:scaleY(0.91);transform-origin:0 1.1px;">保险</div><div class="t" style="left:1538.3px;top:2182.4px;font-size:36px;color:#d96c12;font-weight:400;-webkit-text-stroke:0.86px #d96c12;transform:scaleY(0.91);transform-origin:0 1.1px;">会员</div><div class="t" style="left:1694.3px;top:2182.4px;font-size:36px;color:#d96c12;font-weight:400;-webkit-text-stroke:0.86px #d96c12;transform:scaleY(0.91);transform-origin:0 1.1px;">救援</div><div class="t" style="left:1850.3px;top:2182.4px;font-size:36px;color:#d96c12;font-weight:400;-webkit-text-stroke:0.86px #d96c12;transform:scaleY(0.91);transform-origin:0 1.1px;">投诉</div><div class="t" style="left:2006.8px;top:2182.4px;font-size:36px;color:#d96c12;font-weight:400;-webkit-text-stroke:0.86px #d96c12;transform:scaleY(0.91);transform-origin:0 1.1px;">收购</div><div class="t" style="left:2162.8px;top:2182.4px;font-size:36px;color:#d96c12;font-weight:400;-webkit-text-stroke:0.86px #d96c12;transform:scaleY(0.91);transform-origin:0 1.1px;">交易</div><svg style="left:0;top:0" width="4800" height="2400"><defs><linearGradient id="uag" x1="0" x2="0" y1="0" y2="1"><stop offset="0" stop-color="#78dada"/><stop offset="0.4" stop-color="#80dcde" stop-opacity="0.95"/><stop offset="0.7" stop-color="#9fe4e6" stop-opacity="0.6"/><stop offset="1" stop-color="#e9f8f8" stop-opacity="0"/></linearGradient><radialGradient id="uar" cx="0.5" cy="0.3" r="0.5"><stop offset="0" stop-color="#2fbfc9" stop-opacity="0.9"/><stop offset="1" stop-color="#2fbfc9" stop-opacity="0"/></radialGradient></defs><path d="M1467,1955 L1507,1992 L1489,1992 L1489,2038 Q1491,2046 1499,2050 L1435,2050 Q1443,2046 1445,2038 L1445,1992 L1427,1992 Z" fill="url(#uag)"/><clipPath id="uac1467"><path d="M1467,1955 L1507,1992 L1489,1992 L1489,2038 Q1491,2046 1499,2050 L1435,2050 Q1443,2046 1445,2038 L1445,1992 L1427,1992 Z"/></clipPath><rect x="1427" y="1955" width="80" height="80" fill="url(#uar)" clip-path="url(#uac1467)"/><path d="M2664,1955 L2704,1992 L2686,1992 L2686,2038 Q2688,2046 2696,2050 L2632,2050 Q2640,2046 2642,2038 L2642,1992 L2624,1992 Z" fill="url(#uag)"/><clipPath id="uac2664"><path d="M2664,1955 L2704,1992 L2686,1992 L2686,2038 Q2688,2046 2696,2050 L2632,2050 Q2640,2046 2642,2038 L2642,1992 L2624,1992 Z"/></clipPath><rect x="2624" y="1955" width="80" height="80" fill="url(#uar)" clip-path="url(#uac2664)"/><path d="M3822,1955 L3862,1992 L3844,1992 L3844,2038 Q3846,2046 3854,2050 L3790,2050 Q3798,2046 3800,2038 L3800,1992 L3782,1992 Z" fill="url(#uag)"/><clipPath id="uac3822"><path d="M3822,1955 L3862,1992 L3844,1992 L3844,2038 Q3846,2046 3854,2050 L3790,2050 Q3798,2046 3800,2038 L3800,1992 L3782,1992 Z"/></clipPath><rect x="3782" y="1955" width="80" height="80" fill="url(#uar)" clip-path="url(#uac3822)"/></svg><svg style="left:0;top:0" width="4800" height="2400"><defs><linearGradient id="ab" x1="0" x2="0" y1="0" y2="1"><stop offset="0" stop-color="#3b7ff5"/><stop offset="0.3" stop-color="#3b7ff5" stop-opacity="0.85"/><stop offset="0.65" stop-color="#3b7ff5" stop-opacity="0.2"/><stop offset="1" stop-color="#3b7ff5" stop-opacity="0"/></linearGradient><linearGradient id="at" x1="0" x2="0" y1="0" y2="1"><stop offset="0" stop-color="#35c6c6"/><stop offset="0.3" stop-color="#35c6c6" stop-opacity="0.85"/><stop offset="0.65" stop-color="#35c6c6" stop-opacity="0.2"/><stop offset="1" stop-color="#35c6c6" stop-opacity="0"/></linearGradient><linearGradient id="ap" x1="0" x2="0" y1="0" y2="1"><stop offset="0" stop-color="#6457e6"/><stop offset="0.3" stop-color="#6457e6" stop-opacity="0.85"/><stop offset="0.65" stop-color="#6457e6" stop-opacity="0.2"/><stop offset="1" stop-color="#6457e6" stop-opacity="0"/></linearGradient><linearGradient id="ag" x1="0" x2="0" y1="0" y2="1"><stop offset="0" stop-color="#3f9c52"/><stop offset="0.3" stop-color="#3f9c52" stop-opacity="0.85"/><stop offset="0.65" stop-color="#3f9c52" stop-opacity="0.2"/><stop offset="1" stop-color="#3f9c52" stop-opacity="0"/></linearGradient><linearGradient id="ao" x1="0" x2="0" y1="0" y2="1"><stop offset="0" stop-color="#ffa23f"/><stop offset="0.3" stop-color="#ffa23f" stop-opacity="0.85"/><stop offset="0.65" stop-color="#ffa23f" stop-opacity="0.2"/><stop offset="1" stop-color="#ffa23f" stop-opacity="0"/></linearGradient></defs><rect x="447" y="985" width="24" height="60" fill="#b8dfe1"/><rect x="447" y="1268" width="24" height="59" fill="#b8dfe1"/><rect x="447" y="1550" width="24" height="156" fill="#b8dfe1"/><rect x="447" y="1926" width="24" height="72" fill="#b8dfe1"/><path d="M357,1383 L438,1348 L480,1348 L562,1383 Z" fill="#cdeff1"/><path d="M357,1761 L438,1726 L480,1726 L562,1761 Z" fill="#cdeff1"/></svg><div class="b" style="left:276px;top:258px;width:365px;height:734px;border-radius:26px;background:linear-gradient(205deg,#f4f9ff 0%,#e0ecfc 30%,#c6ddf8 62%,#b0cff5 100%);border:4px solid rgba(255,255,255,0.95);box-shadow:inset 0 0 18px 12px rgba(255,255,255,0.9), 0 0 6px rgba(255,255,255,0.6);"></div><div class="b" style="left:276px;top:1101px;width:365px;height:173px;border-radius:26px;background:linear-gradient(90deg,#8deff1 0%,#a8f2f3 45%,#d3f8f8 100%);border:4px solid rgba(255,255,255,0.95);box-shadow:inset 0 0 18px 12px rgba(255,255,255,0.9), 0 0 6px rgba(255,255,255,0.6);"></div><div class="b" style="left:276px;top:1383px;width:365px;height:173px;border-radius:26px;background:linear-gradient(90deg,#d9d1fb 0%,#e2dcfc 50%,#efecfe 100%);border:4px solid rgba(255,255,255,0.95);box-shadow:inset 0 0 18px 12px rgba(255,255,255,0.9), 0 0 6px rgba(255,255,255,0.6);"></div><div class="b" style="left:276px;top:1761px;width:365px;height:171px;border-radius:26px;background:linear-gradient(90deg,#b5e9c6 0%,#c8efd4 50%,#e3f6e8 100%);border:4px solid rgba(255,255,255,0.95);box-shadow:inset 0 0 18px 12px rgba(255,255,255,0.9), 0 0 6px rgba(255,255,255,0.6);"></div><div class="b" style="left:276px;top:2055px;width:365px;height:172px;border-radius:26px;background:linear-gradient(90deg,#f0c67e 0%,#f4d59e 50%,#f9ecd6 100%);border:4px solid rgba(255,255,255,0.95);box-shadow:inset 0 0 18px 12px rgba(255,255,255,0.9), 0 0 6px rgba(255,255,255,0.6);"></div><svg style="left:0;top:0" width="4800" height="2400"><path d="M316,1438 Q322,1434 330,1440 L410,1515 Q420,1526 416,1536 Q413,1544 402,1544 L322,1544 Q310,1544 309,1532 L306,1452 Q306,1442 316,1438 Z" fill="#e6ecff" fill-opacity="0.6"/><path d="M320,1198 Q324,1194 330,1200 L370,1240 Q380,1252 370,1255 L318,1256 Q310,1256 310,1248 L311,1210 Q312,1202 320,1198 Z" fill="#b8e6ea" fill-opacity="0.6"/><rect x="447" y="262" width="24" height="726" fill="#ffffff" fill-opacity="0.12"/><rect x="447" y="1105" width="24" height="165" fill="#ffffff" fill-opacity="0.12"/><rect x="447" y="1387" width="24" height="165" fill="#ffffff" fill-opacity="0.12"/><rect x="447" y="1765" width="24" height="163" fill="#ffffff" fill-opacity="0.12"/><rect x="447" y="2059" width="24" height="164" fill="#ffffff" fill-opacity="0.12"/><path d="M400,259 C430,259 444,252 447,240 L471,240 C474,252 488,259 518,259 Z" fill="#ffffff" fill-opacity="0.85"/><rect x="447" y="214" width="24" height="49" fill="#f2fbfb"/><path d="M459,194 L481,215 L471,215 L471,282 L447,282 L447,215 L437,215 Z" fill="url(#ab)"/><path d="M400,1102 C430,1102 444,1095 447,1083 L471,1083 C474,1095 488,1102 518,1102 Z" fill="#ffffff" fill-opacity="0.85"/><rect x="447" y="1058" width="24" height="48" fill="#f2fbfb"/><path d="M459,1038 L481,1059 L471,1059 L471,1125 L447,1125 L447,1059 L437,1059 Z" fill="url(#at)"/><path d="M400,1384 C430,1384 444,1377 447,1365 L471,1365 C474,1377 488,1384 518,1384 Z" fill="#ffffff" fill-opacity="0.85"/><rect x="447" y="1340" width="24" height="48" fill="#f2fbfb"/><path d="M459,1320 L481,1341 L471,1341 L471,1407 L447,1407 L447,1341 L437,1341 Z" fill="url(#ap)"/><path d="M400,1762 C430,1762 444,1755 447,1743 L471,1743 C474,1755 488,1762 518,1762 Z" fill="#ffffff" fill-opacity="0.85"/><rect x="447" y="1719" width="24" height="47" fill="#f2fbfb"/><path d="M459,1699 L481,1720 L471,1720 L471,1785 L447,1785 L447,1720 L437,1720 Z" fill="url(#ag)"/><path d="M400,2056 C430,2056 444,2049 447,2037 L471,2037 C474,2049 488,2056 518,2056 Z" fill="#ffffff" fill-opacity="0.85"/><rect x="447" y="2011" width="24" height="49" fill="#f2fbfb"/><path d="M459,1991 L481,2012 L471,2012 L471,2079 L447,2079 L447,2012 L437,2012 Z" fill="url(#ao)"/></svg><div class="t" style="left:397.2px;top:549.8px;font-size:41px;color:#2f74ea;font-weight:400;-webkit-text-stroke:0.5px currentColor;transform:scaleY(0.91);transform-origin:0 1.2px;">全生命</div><div class="t" style="left:417.7px;top:597.8px;font-size:41px;color:#2f74ea;font-weight:400;-webkit-text-stroke:0.5px currentColor;transform:scaleY(0.91);transform-origin:0 1.2px;">周期</div><div class="t" style="left:417.7px;top:647.5px;font-size:41px;color:#2f74ea;font-weight:400;-webkit-text-stroke:0.5px currentColor;transform:scaleY(0.91);transform-origin:0 1.2px;">客户</div><div class="t" style="left:377.2px;top:693.3px;font-size:41px;color:#2f74ea;font-weight:400;-webkit-text-stroke:0.5px currentColor;transform:scaleY(0.91);transform-origin:0 1.2px;">信息应用</div><div class="t" style="left:377.2px;top:1168.5px;font-size:41px;color:#1c9ca3;font-weight:400;-webkit-text-stroke:0.5px currentColor;transform:scaleY(0.91);transform-origin:0 1.2px;">公共服务</div><div class="t" style="left:377.2px;top:1449.8px;font-size:41px;color:#5a50e0;font-weight:400;-webkit-text-stroke:0.5px currentColor;transform:scaleY(0.91);transform-origin:0 1.2px;">技术架构</div><div class="t" style="left:376.2px;top:1826.8px;font-size:41px;color:#1d9a48;font-weight:400;-webkit-text-stroke:0.5px currentColor;transform:scaleY(0.91);transform-origin:0 1.2px;">周边系统</div><div class="t" style="left:419.0px;top:2118.8px;font-size:41px;color:#e07018;font-weight:400;-webkit-text-stroke:0.5px currentColor;transform:scaleY(0.91);transform-origin:0 1.2px;">触点</div><svg style="left:0;top:0" width="4800" height="1000"><defs><linearGradient id="wg" x1="0" x2="0" y1="0" y2="1"><stop offset="0" stop-color="#ffffff"/><stop offset="1" stop-color="#d6e4fb"/></linearGradient></defs><path d="M1007.5,381 L1032.5,381 Q1035.5,381 1035.7,384.5 L1038,415.5 Q1038.2,420 1034,420 L1006,420 Q1001.8,420 1002,415.5 L1004.3,384.5 Q1004.5,381 1007.5,381 Z" fill="url(#wg)"/><path d="M1012.5,388 Q1020,400 1027.5,388" stroke="#2f72e6" stroke-width="3.6" fill="none" stroke-linecap="round"/><g fill="#f0f5fe" stroke="#eaf1fd" stroke-linecap="round"><circle cx="1022.4" cy="596.2" r="11.3" stroke="none"/><circle cx="1049.4" cy="600" r="6.5" stroke="none"/><circle cx="1041.3" cy="618" r="6" stroke="none"/><circle cx="1024.8" cy="617.6" r="4.4" stroke="none"/><path d="M1024,600 Q1036,604 1041,617" stroke-width="10" fill="none"/><path d="M1048,601 Q1043,608 1041.5,617" stroke-width="6.5" fill="none"/></g><path d="M2866.5,393 L2870,387 Q2872,384 2877,384 L2892,384 Q2897,384 2899,387 L2902.5,393 L2903,393 Q2906,390 2909,391 Q2911,392 2909.5,393.5 L2904.5,395 L2909,401 Q2910,403 2910,405 L2910,415 Q2910,417 2908,417 L2903,417 Q2900.5,417 2900.5,415 L2900.5,413.5 L2868.5,413.5 L2868.5,415 Q2868.5,417 2866,417 L2861,417 Q2859,417 2859,415 L2859,405 Q2859,403 2860,401 L2864.5,395 L2859.5,393.5 Q2858,392 2860,391 Q2863,390 2866,393 Z" fill="url(#wg)"/><path d="M2869,393.5 L2871.5,388.5 Q2872.5,386.8 2875,386.8 L2894,386.8 Q2896.5,386.8 2897.5,388.5 L2900,393.5 Z" fill="#3577ea"/><path d="M2874,402 L2895,402 L2893,411 L2876,411 Z" fill="#3577ea"/><path d="M2862.5,401.5 Q2868,400.5 2871,404.5 Q2866,405.5 2863,404.5 Z" fill="#3577ea"/><path d="M2906.5,401.5 Q2901,400.5 2898,404.5 Q2903,405.5 2906,404.5 Z" fill="#3577ea"/><g fill="url(#wg)"><path d="M2881,590 L2881,585 Q2881,582 2884,582 L2900,582 Q2903,582 2903,585 L2903,590 L2899,590 L2899,586 L2885,586 L2885,590 Z"/><rect x="2874" y="590" width="36" height="35.5" rx="5.5"/><rect x="2881" y="622" width="5" height="8" rx="2.5"/><rect x="2898" y="622" width="5" height="8" rx="2.5"/></g><rect x="2883" y="598" width="4.6" height="20" rx="2.3" fill="#2f72e6"/><rect x="2896.5" y="598" width="4.6" height="20" rx="2.3" fill="#2f72e6"/><path d="M958,861 L980,861 Q987,861 987,868 L987,890 L990,896.8 L980,895.5 L958,895.5 Q951,895.5 951,888.5 L951,868 Q951,861 958,861 Z" fill="url(#wg)"/><rect x="960" y="873" width="5" height="10" rx="2.5" fill="#2f72e6"/><rect x="973" y="873" width="5" height="10" rx="2.5" fill="#2f72e6"/></svg><svg style="left:0;top:0" width="4800" height="2400"><g fill="none" stroke-width="17"><path d="M1142,1477 C1125,1452 1112,1445 1096,1445 C1074,1445 1064,1462 1064,1477 C1064,1492 1074,1509 1096,1509 C1112,1509 1125,1502 1142,1477" stroke="#1b2b45"/><path d="M1142,1477 C1159,1452 1172,1445 1188,1445 C1210,1445 1220,1462 1220,1477 C1220,1492 1210,1509 1188,1509 C1172,1509 1159,1502 1142,1477" stroke="#1fca5c"/><path d="M1118,1452 L1166,1502" stroke="#1fca5c"/></g><text x="1096" y="1484" font-family="Liberation Sans" font-weight="700" font-size="19" fill="#1fca5c" text-anchor="middle">Dev</text><text x="1188" y="1484" font-family="Liberation Sans" font-weight="700" font-size="19" fill="#111" text-anchor="middle">Ops</text><path d="M1335,1449 L1364,1477 L1335,1505 L1306,1477 Z" fill="#f05133" stroke="#f05133" stroke-width="5" stroke-linejoin="round"/><path d="M1327.5,1455 L1335,1467 L1335,1491 M1335,1467 L1348,1479" stroke="#fff" stroke-width="4" fill="none"/><circle cx="1335" cy="1467" r="4" fill="#fff"/><circle cx="1348" cy="1479" r="4.6" fill="#fff"/><circle cx="1335" cy="1491.5" r="4.6" fill="#fff"/><text x="1377" y="1490.5" font-family="Liberation Serif" font-weight="700" font-size="66" fill="#3e2c00" letter-spacing="0">git</text><polygon points="1580.0,1441.0 1609.7,1455.3 1617.0,1487.5 1596.5,1513.2 1563.5,1513.2 1543.0,1487.5 1550.3,1455.3" fill="#326ce5" stroke="#326ce5" stroke-width="8" stroke-linejoin="round"/><circle cx="1580" cy="1479" r="18" fill="none" stroke="#fff" stroke-width="4.5"/><path d="M1580,1479 L1580.0,1452.0 M1580,1479 L1601.1,1462.2 M1580,1479 L1606.3,1485.0 M1580,1479 L1591.7,1503.3 M1580,1479 L1568.3,1503.3 M1580,1479 L1553.7,1485.0 M1580,1479 L1558.9,1462.2" stroke="#fff" stroke-width="4.5"/><circle cx="1580" cy="1479" r="5" fill="#fff"/><text x="1644" y="1497" font-family="Liberation Mono" font-weight="700" font-size="42" fill="#2b2b2b" letter-spacing="0.5">kubernetes</text><g fill="#0b6cc6"><rect x="2011.0" y="1447" width="9.6" height="9.2"/><rect x="2021.6" y="1447" width="9.6" height="9.2"/><rect x="2032.2" y="1447" width="9.6" height="9.2"/><rect x="2042.8" y="1447" width="9.6" height="9.2"/><rect x="2053.4" y="1447" width="9.6" height="9.2"/><rect x="2021.6" y="1436.8" width="9.6" height="9.2"/><rect x="2032.2" y="1436.8" width="9.6" height="9.2"/><rect x="2042.8" y="1436.8" width="9.6" height="9.2"/><rect x="2042.8" y="1426.6" width="9.6" height="9.2"/><path d="M2005,1458 L2074,1458 Q2075,1450 2082,1447 Q2081,1441 2077,1437 Q2087,1438 2089,1446 Q2097,1446 2095,1452 Q2089,1457 2082,1458 Q2071,1490 2041,1490 Q2007,1490 2005,1458 Z"/></g><text x="1984" y="1527" font-family="Liberation Sans" font-size="42" fill="#0b6cc6" stroke="#0b6cc6" stroke-width="1.4" letter-spacing="-1.8">docker</text><circle cx="2247.5" cy="1475" r="31.5" fill="#e02a20" stroke="#222" stroke-width="1.5"/><path d="M2225,1480 L2269,1470 L2276,1500 L2262,1508 L2246,1507 L2228,1505 Z" fill="#335d82" stroke="#222" stroke-width="1.5"/><path d="M2248,1476 L2256,1481 L2265,1474 L2266,1483 L2256,1484 L2250,1486 Z" fill="#e02a20" stroke="#222" stroke-width="1"/><g transform="rotate(-12 2250 1456)"><ellipse cx="2250" cy="1456" rx="19" ry="24.5" fill="#f3d3b8" stroke="#222" stroke-width="1.8"/></g><path d="M2232,1447 Q2233,1436 2244,1433 Q2236,1440 2236,1452 Z" fill="#8a8a8a" stroke="#222" stroke-width="1"/><circle cx="2233" cy="1458" r="5" fill="#f3d3b8" stroke="#222" stroke-width="1.5"/><path d="M2247,1449 Q2250,1452 2254,1450 M2260,1447 Q2263,1450 2266,1447 M2250,1464 Q2258,1470 2266,1462" stroke="#222" stroke-width="1.5" fill="none"/><path d="M2240,1494 L2258,1492 L2263,1516 L2245,1517 Z" fill="#fff" stroke="#222" stroke-width="1.5"/><path d="M2262,1490 Q2270,1488 2277,1493 Q2279,1500 2272,1503 L2263,1502 Z" fill="#fff" stroke="#222" stroke-width="1.5"/><text x="2298" y="1486" font-family="Liberation Serif" font-weight="700" font-size="36" fill="#111" letter-spacing="0.3">Jenkins</text><g fill="none" stroke="#16215f" stroke-width="7.2"><circle cx="2508.4" cy="1482.9" r="12.5"/><circle cx="2546.4" cy="1482.9" r="12.5"/><circle cx="2581.4" cy="1482.9" r="12.5"/><circle cx="2642.2" cy="1482.9" r="12.5"/></g><g fill="#16215f"><rect x="2517.5" y="1467.5" width="7.2" height="30.3"/><rect x="2530" y="1467.5" width="7.3" height="41.5"/><rect x="2601.3" y="1454.2" width="7.6" height="43.6"/><rect x="2614.5" y="1454.2" width="7.6" height="43.6"/></g><g fill="#ffcc00"><rect x="2669.7" y="1454" width="7.4" height="24"/><rect x="2669.7" y="1490.3" width="42.3" height="7.5"/><path d="M2669.7,1477.5 A20.5,20.5 0 0 1 2690.2,1490.3 L2698,1490.3 A28,28 0 0 0 2669.7,1470 Z"/><path d="M2681.5,1473 L2691,1456 L2697.5,1459.8 L2688,1476.8 Z"/><path d="M2688,1478 L2707,1467.5 L2710.8,1474 L2691.8,1484.5 Z"/></g><path d="M2815,1506 Q2800,1506 2800,1490 Q2800,1466 2822,1466 Q2830,1449 2848,1449 Q2862,1449 2870,1458 L2875,1473 Q2887,1478 2887,1491 Q2887,1506 2870,1506 Z" fill="#6db33f"/><path d="M2834,1497 Q2822,1484 2828,1474 Q2836,1465 2852,1464 Q2866,1462 2870,1453 Q2880,1476 2868,1490 Q2858,1499 2842,1498 Z" fill="#fff"/><path d="M2835,1497 Q2862,1490 2868,1471" stroke="#6db33f" stroke-width="1.6" fill="none"/><circle cx="2827.5" cy="1498" r="2.6" fill="#fff"/><text x="2900" y="1496.5" font-family="Liberation Sans" font-size="34.5" fill="#111">Spring <tspan font-weight="700">Cloud</tspan></text><path d="M3199,1496.0 L3233,1512.0 L3266.6,1496.0 L3266.6,1503.5 L3233,1520.0 L3199,1503.5 Z" fill="#a41e11"/><path d="M3199,1496.0 L3233,1483.4 L3266.6,1496.0 L3233,1512.0 Z" fill="#dc2b1e"/><path d="M3199,1496.0 L3233,1512.0 L3266.6,1496.0" stroke="#ee4a2e" stroke-width="1.2" fill="none"/><path d="M3199,1484.5 L3233,1500.5 L3266.6,1484.5 L3266.6,1492.0 L3233,1508.5 L3199,1492.0 Z" fill="#a41e11"/><path d="M3199,1484.5 L3233,1471.9 L3266.6,1484.5 L3233,1500.5 Z" fill="#dc2b1e"/><path d="M3199,1484.5 L3233,1500.5 L3266.6,1484.5" stroke="#ee4a2e" stroke-width="1.2" fill="none"/><path d="M3199,1473.0 L3233,1489.0 L3266.6,1473.0 L3266.6,1480.5 L3233,1497.0 L3199,1480.5 Z" fill="#a41e11"/><path d="M3199,1473.0 L3233,1460.4 L3266.6,1473.0 L3233,1489.0 Z" fill="#dc2b1e"/><path d="M3199,1473.0 L3233,1489.0 L3266.6,1473.0" stroke="#ee4a2e" stroke-width="1.2" fill="none"/><path d="M3233,1463.5 L3234.6,1466.6 L3238.2,1466.8 L3235.4,1469 L3236.6,1472.4 L3233,1470.4 L3229.4,1472.4 L3230.6,1469 L3227.8,1466.8 L3231.4,1466.6 Z" fill="#fff"/><ellipse cx="3219" cy="1473.8" rx="8.5" ry="3.3" fill="#fff"/><path d="M3224.2,1480 L3238.9,1477 L3234.4,1483.6 Z" fill="#fff"/><path d="M3239.3,1473.7 L3248.7,1469.8 L3257.6,1473.4 L3248.7,1477 Z" fill="#a81a12"/><path d="M3248.7,1469.8 L3257.6,1473.4 L3248.7,1477 Z" fill="#6e0d0a"/><text x="3282" y="1500.7" font-family="Liberation Sans" font-size="47" fill="#656565" stroke="#656565" stroke-width="1.2" letter-spacing="-0.8">redis</text><defs><linearGradient id="eug" gradientUnits="userSpaceOnUse" x1="3500" y1="1452" x2="3450" y2="1505"><stop offset="0" stop-color="#66c8dc"/><stop offset="0.5" stop-color="#3f78b8"/><stop offset="1" stop-color="#1a2670"/></linearGradient></defs><g stroke="url(#eug)" stroke-width="9" fill="none" stroke-linecap="round" stroke-linejoin="round"><path d="M3476.7,1455.1 L3453,1467.4 Q3462,1481 3453,1494.2 L3477.3,1508.7 L3498.8,1494.2"/><path d="M3477.3,1480.2 L3459,1488"/></g><g fill="url(#eug)"><circle cx="3476.7" cy="1455.1" r="6.6"/><circle cx="3477.3" cy="1480.2" r="6.2"/><circle cx="3498.8" cy="1494.2" r="6.6"/></g><circle cx="3499.4" cy="1468.5" r="6.3" fill="#1a2a78"/><g stroke="#111" stroke-width="4.8" fill="none" stroke-linejoin="miter" stroke-miterlimit="1.5"><path d="M3522.7,1471.5 L3542.5,1471.5 M3527,1482.5 L3540,1482.5 M3522.7,1492.3 L3542.5,1492.3"/><path d="M3558.3,1469 L3558.3,1483.5 Q3558.3,1492.5 3567.3,1492.5 Q3576.2,1492.5 3576.2,1483.5 L3576.2,1469"/><path d="M3596.1,1494.7 L3596.1,1471.4 L3606,1471.4 Q3613,1471.4 3613,1477.5 Q3613,1483.6 3606,1483.6 L3598,1483.6 M3604,1483.6 L3614.5,1494.7"/><path d="M3628.7,1471.5 L3647.9,1471.5 M3633,1482.5 L3646,1482.5 M3628.7,1492.3 L3647.9,1492.3"/><path d="M3664.2,1469 L3664.2,1494.7 M3684,1469.5 L3667,1482.5 L3684,1494.5"/><path d="M3696.5,1494.7 L3708.1,1470.5 L3719.8,1494.7"/></g><path d="M3784.5,1463.5 L3791,1463.5 L3791,1478.6 L3799.6,1478.6 L3799.6,1463.5 L3806,1463.5 L3806,1478.6 L3819,1478.6 Q3820,1478.6 3820,1480 L3820,1501 Q3820,1502 3819,1502 L3785.5,1502 Q3784.5,1502 3784.5,1501 Z" fill="#ff6600"/><rect x="3806" y="1487" width="7" height="7" rx="1.5" fill="#fff"/><text x="3821" y="1502" font-family="Liberation Sans" font-size="56" fill="#ff6600" transform="translate(3821,0) scale(0.72,1) translate(-3821,0)">Rabbit<tspan fill="#9aa0a4">MQ</tspan></text></svg></body></html>
